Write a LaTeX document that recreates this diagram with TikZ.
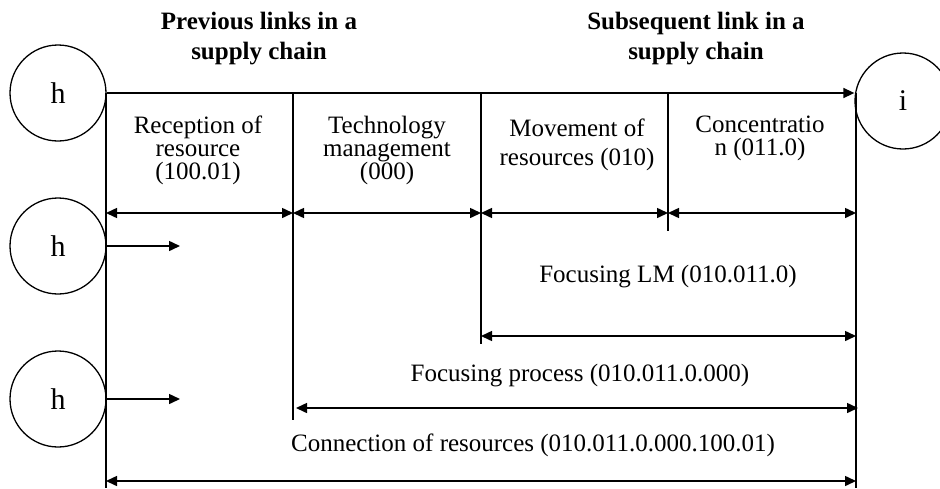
\documentclass[tikz,border=0pt]{standalone}
\usepackage{fontspec}
\setmainfont{Liberation Serif}
\usetikzlibrary{arrows.meta}
\begin{document}
\begin{tikzpicture}[x=1pt,y=-1pt,
  every node/.style={font=\fontsize{25}{23}\selectfont, inner sep=0pt},
  stage/.style={circle, draw, line width=1.3pt, minimum size=96pt, font=\fontsize{30}{30}\selectfont},
  title/.style={font=\fontsize{25}{30}\selectfont\bfseries, align=center},
  lbl/.style={align=center},
  rule/.style={line width=1.3pt},
  fwd/.style={line width=1.5pt, -{Triangle[length=11pt,width=10pt]}},
  span/.style={line width=1.5pt, {Triangle[length=11pt,width=10pt]}-{Triangle[length=11pt,width=10pt]}}]
\useasboundingbox (0,0) rectangle (940,488);
\clip (0,0) rectangle (940,488);

% headings
\node[title] (prev) at (259,39) {Previous links in a\\supply chain};
\node[title] (next) at (696,39) {Subsequent link in a\\supply chain};

% supply chain links
\node[stage] (h1) at (58,93) {h};
\node[stage] (i)  at (903,101) {i};
\node[stage] (h2) at (58,246) {h};
\node[stage] (h3) at (58,399) {h};

% main flow
\draw[fwd] (h1.east) -- (h1.east -| i.west);

% stage boundaries
\coordinate (t1) at (106,93);  \coordinate (b1) at (106,488);
\coordinate (t2) at (293,93);  \coordinate (b2) at (293,420);
\coordinate (t3) at (481,93);  \coordinate (b3) at (481,344);
\coordinate (t4) at (668,93);  \coordinate (b4) at (668,231);
\coordinate (t5) at (856,93);  \coordinate (b5) at (856,488);
\foreach \k in {1,...,5} \draw[rule] (t\k) -- (b\k);

% stage names
\node[lbl] (rec) at (198,150) {Reception of\\resource\\(100.01)};
\node[lbl] (tech) at (387,150) {Technology\\management\\(000)};
\node[lbl, font=\fontsize{25}{29}\selectfont] (mov) at (577,145) {Movement of\\resources (010)};
\node[lbl] (conc) at (760,138) {Concentratio\\n (011.0)};

% stage spans
\coordinate (s1) at (106,213);
\coordinate (s2) at (293,213);
\coordinate (s3) at (481,213);
\coordinate (s4) at (668,213);
\coordinate (s5) at (856,213);
\draw[span] (s1) -- (s2);
\draw[span] (s2) -- (s3);
\draw[span] (s3) -- (s4);
\draw[span] (s4) -- (s5);

% inputs from earlier links
\coordinate (e2) at (180,246);
\coordinate (e3) at (180,399);
\draw[fwd] (h2.east) -- (e2);
\draw[fwd] (h3.east) -- (e3);

% combined processes
\node (flm) at (668,277) {Focusing LM (010.011.0)};
\coordinate (f1) at (481,336); \coordinate (f2) at (856,336);
\draw[span] (f1) -- (f2);

\node (fp) at (580,376) {Focusing process (010.011.0.000)};
\coordinate (p1) at (296,408); \coordinate (p2) at (858,408);
\draw[span] (p1) -- (p2);

\node (con) at (533,445) {Connection of resources (010.011.0.000.100.01)};
\coordinate (c1) at (106,481); \coordinate (c2) at (856,481);
\draw[span] (c1) -- (c2);
\end{tikzpicture}
\end{document}
